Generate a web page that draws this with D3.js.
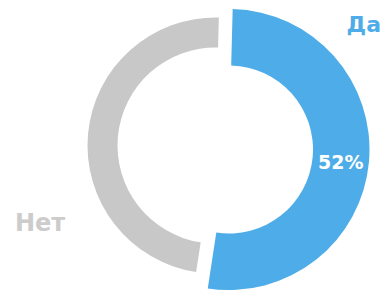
<!DOCTYPE html>
<html>
<head>
<meta charset="utf-8">
<script src="https://cdn.jsdelivr.net/npm/d3@7"></script>
<style>
  body { margin: 0; background: #fff; }
  svg { display: block; font-family: "DejaVu Sans", Verdana, sans-serif; }
</style>
</head>
<body>
<svg width="385" height="290"></svg>
<script>
// данные
const categories = ['Да', 'Нет'];
const values = [52, 48];
const colors = ['#4eade8', '#c8c8c8'];

function render() {
    const svg = d3.select('svg');
    const cx = 215.5, cy = 145.5; // центр кольца
    const rotate = 1.5 * Math.PI / 180;

    const pie = d3.pie()
        .sort(null)
        .startAngle(rotate)
        .endAngle(2 * Math.PI + rotate);

    const slices = pie(values);

    // серый сектор обычный, синий выдвинут и толще
    const arcGray = d3.arc().innerRadius(98).outerRadius(128);
    const arcBlue = d3.arc().innerRadius(84).outerRadius(140.5);
    const pullX = 13.5, pullY = 4;

    const groups = svg.selectAll('g.slice')
        .data(slices)
        .enter()
        .append('g')
        .attr('class', 'slice')
        .attr('transform', (d, i) => i === 0
            ? `translate(${cx + pullX},${cy + pullY})`
            : `translate(${cx},${cy})`);

    groups.append('path')
        .attr('d', (d, i) => i === 0 ? arcBlue(d) : arcGray(d))
        .attr('fill', (d, i) => colors[i]);

    // процент на синем секторе
    const total = d3.sum(values);
    groups.filter((d, i) => i === 0)
        .append('text')
        .text(d => Math.round(d.value / total * 100) + '%')
        .attr('x', d => arcBlue.centroid(d)[0])
        .attr('y', d => arcBlue.centroid(d)[1] + 3)
        .attr('text-anchor', 'middle')
        .attr('dominant-baseline', 'central')
        .attr('fill', '#fff')
        .style('font-weight', 'bold')
        .style('font-size', '19px');

    // подписи категорий
    svg.append('text')
        .text(categories[0])
        .attr('x', 381)
        .attr('y', 32)
        .attr('text-anchor', 'end')
        .attr('fill', colors[0])
        .style('font-weight', 'bold')
        .style('font-size', '22px');

    svg.append('text')
        .text(categories[1])
        .attr('x', 15)
        .attr('y', 231)
        .attr('fill', '#cccccc')
        .style('font-weight', 'bold')
        .style('font-size', '24px');
}

render();
</script>
</body>
</html>
